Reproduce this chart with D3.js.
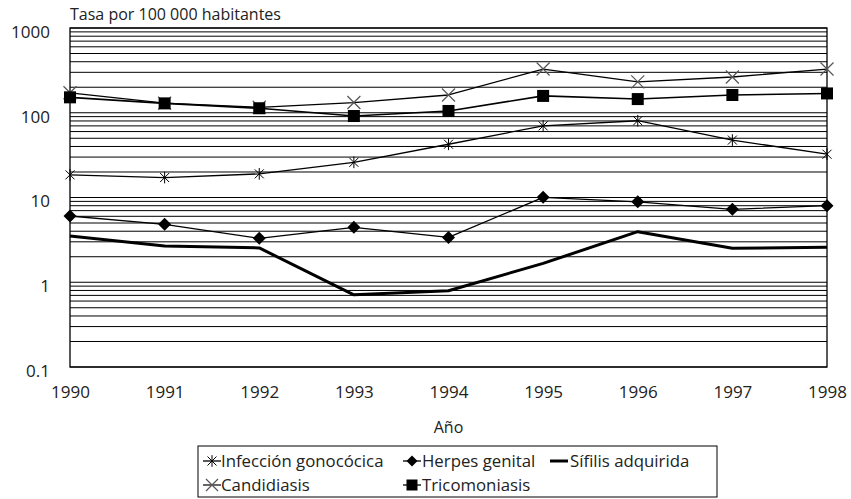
<!DOCTYPE html>
<html><head><meta charset="utf-8">
<script src="https://cdn.jsdelivr.net/npm/d3@7"></script>
<style>
body{margin:0;background:#fff;}
svg{display:block;font-family:"Open Sans",sans-serif;}
</style></head>
<body><svg id="c" width="851" height="499"></svg>
<script>
const years = [1990,1991,1992,1993,1994,1995,1996,1997,1998];
const gonococica = [18.5,17.2,19,26,42.5,70,80.5,47.6,32.4];
const herpes = [6.05,4.83,3.3,4.45,3.38,10.05,8.9,7.26,8.0];
const sifilis = [3.51,2.68,2.54,0.71,0.795,1.67,3.95,2.52,2.59];
const candidiasis = [172,130,116,132,162,328,231,264,328];
const tricomoniasis = [152,129,113,91.5,105,158,145,162,169];
const yTicks = [0.1,1,10,100,1000];
const yTickLabels = ["0.1","1","10","100","1000"];
const seriesNames = ["Infección gonocócica","Herpes genital","Sífilis adquirida","Candidiasis","Tricomoniasis"];
const yTitle = "Tasa por 100 000 habitantes";
const xTitle = "Año";

const svg = d3.select("#c");
const L=70, R=827, T=28, B=367;
const x = d3.scaleLinear().domain([1990,1998]).range([L,R]);
const y = d3.scaleLog().domain([0.1,1000]).range([B,T]);

// gridlines
const grid=[];
for(let e=-1;e<3;e++){for(let m=1;m<=9;m++){grid.push(m*Math.pow(10,e));}}
grid.push(1000);
svg.append("g").selectAll("line").data(grid).join("line")
 .attr("x1",L).attr("x2",R).attr("y1",d=>y(d)).attr("y2",d=>y(d))
 .attr("stroke","#000").attr("stroke-width",1);
svg.append("rect").attr("x",L).attr("y",T).attr("width",R-L).attr("height",B-T)
 .attr("fill","none").attr("stroke","#000").attr("stroke-width",1.3);

// axes
const ya = svg.append("g").attr("transform",`translate(${L},0)`)
 .call(d3.axisLeft(y).tickValues(yTicks).tickFormat((d,i)=>yTickLabels[i]).tickSize(0).tickPadding(20));
ya.select(".domain").remove();
ya.selectAll("text").attr("font-family","Open Sans").attr("font-size",17).attr("fill","#222").attr("dy","0.55em");
const xa = svg.append("g").attr("transform",`translate(0,${B})`)
 .call(d3.axisBottom(x).tickValues(years).tickFormat(d3.format("d")).tickSize(0).tickPadding(19));
xa.select(".domain").remove();
xa.selectAll("text").attr("font-family","Open Sans").attr("font-size",17).attr("fill","#222");

svg.append("text").attr("x",L).attr("y",20).attr("font-size",16).attr("fill","#222").text(yTitle);
svg.append("text").attr("x",(L+R)/2).attr("y",433).attr("text-anchor","middle").attr("font-size",16).attr("fill","#222").text(xTitle);

const line = d3.line().x((d,i)=>x(years[i])).y(d=>y(d));
function drawLine(vals,w){svg.append("path").datum(vals).attr("d",line).attr("fill","none").attr("stroke","#000").attr("stroke-width",w).attr("stroke-linejoin","round");}

const mk = {
 aster:(g,cx,cy,s)=>{g.append("path").attr("d",`M${cx-s},${cy-s}L${cx+s},${cy+s}M${cx+s},${cy-s}L${cx-s},${cy+s}M${cx},${cy-s*1.3}L${cx},${cy+s*1.3}`).attr("stroke","#000").attr("stroke-width",1).attr("fill","none");},
 xx:(g,cx,cy,s)=>{g.append("path").attr("d",`M${cx-s},${cy-s}L${cx+s},${cy+s}M${cx+s},${cy-s}L${cx-s},${cy+s}`).attr("stroke","#555").attr("stroke-width",1.2).attr("fill","none");},
 diamond:(g,cx,cy,s)=>{g.append("path").attr("d",`M${cx},${cy-s}L${cx+s},${cy}L${cx},${cy+s}L${cx-s},${cy}Z`).attr("fill","#000");},
 square:(g,cx,cy,s)=>{g.append("rect").attr("x",cx-s).attr("y",cy-s).attr("width",2*s).attr("height",2*s).attr("fill","#000");}
};
function drawMarks(vals,type,s){const g=svg.append("g");vals.forEach((v,i)=>mk[type](g,x(years[i]),y(v),s));}

drawLine(sifilis,3);
drawLine(herpes,1.3);
drawMarks(herpes,"diamond",6.5);
drawLine(gonococica,1.3);
drawMarks(gonococica,"aster",4.5);
drawLine(candidiasis,1.3);
drawLine(tricomoniasis,1.6);
drawMarks(candidiasis,"xx",6.5);
drawMarks(tricomoniasis,"square",6);

// legend
const lg = svg.append("g");
lg.append("rect").attr("x",198).attr("y",446).attr("width",519).attr("height",51).attr("fill","#fff").attr("stroke","#000").attr("stroke-width",1);
const items = [
 {n:seriesNames[0],t:"aster",lx:203,ly:461,tx:221,w:1.3},
 {n:seriesNames[1],t:"diamond",lx:403,ly:461,tx:422,w:1.3},
 {n:seriesNames[2],t:null,lx:550,ly:461,tx:570,w:3},
 {n:seriesNames[3],t:"xx",lx:203,ly:485,tx:221,w:1.2},
 {n:seriesNames[4],t:"square",lx:403,ly:485,tx:422,w:1.3}
];
items.forEach(it=>{
 lg.append("line").attr("x1",it.lx).attr("x2",it.lx+18).attr("y1",it.ly).attr("y2",it.ly).attr("stroke","#000").attr("stroke-width",it.w);
 if(it.t) mk[it.t](lg,it.lx+9,it.ly,it.t==="aster"?4.5:(it.t==="xx"?6:5.5));
 lg.append("text").attr("x",it.tx).attr("y",it.ly).attr("dy","0.35em").attr("font-size",16.8).attr("fill","#222").text(it.n);
});
</script></body></html>
